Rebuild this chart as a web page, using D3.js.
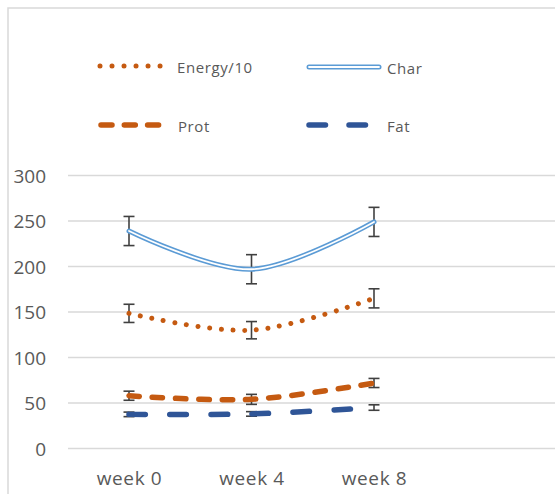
<!DOCTYPE html>
<html>
<head>
<meta charset="utf-8">
<script src="https://cdn.jsdelivr.net/npm/d3@7/dist/d3.min.js"></script>
<style>
  html, body { margin: 0; padding: 0; background: #fff; }
  svg { display: block; }
  text { font-family: "Open Sans", "Liberation Sans", sans-serif; fill: #595959; }
</style>
</head>
<body>
<svg id="chart" width="555" height="494"></svg>
<script>
// Categories and tick labels
const weeks = ["week 0", "week 4", "week 8"];
const yTicks = [0, 50, 100, 150, 200, 250, 300];

// Series means
const energy = [148.5, 130, 165];   // Energy/10
const charV  = [239, 197, 249];
const prot   = [58, 54, 72];
const fat    = [37.5, 38, 45];

// Symmetric error bar half-widths
const energyErr = [10, 9.5, 10.5];
const charErr   = [16, 16, 16];
const protErr   = [5, 5.5, 5];
const fatErr    = [2.5, 2.5, 3];

const svg = d3.select("#chart");
const W = 555, H = 494;

const x = d3.scalePoint().domain(weeks).range([129, 374]);
const y = d3.scaleLinear().domain([0, 300]).range([448.5, 175.5]);

// outer chart border (only top and left are within view)
svg.append("path")
  .attr("d", `M8,${H} L8,8 L${W},8`)
  .attr("fill", "none")
  .attr("stroke", "#D9D9D9")
  .attr("stroke-width", 1.5);

// horizontal gridlines
svg.append("g").selectAll("line").data(yTicks).join("line")
  .attr("x1", 68).attr("x2", W)
  .attr("y1", d => y(d)).attr("y2", d => y(d))
  .attr("stroke", "#D9D9D9").attr("stroke-width", 1.3);

// y axis tick labels
const yAxis = d3.axisLeft(y).tickValues(yTicks).tickSize(0).tickPadding(0);
const gy = svg.append("g").attr("transform", "translate(46,0)").call(yAxis);
gy.select(".domain").remove();
gy.selectAll("text")
  .attr("font-family", null).attr("font-size", null)
  .style("font-size", "19px").style("fill", "#595959")
  .attr("dy", "0.35em");

// x axis labels
const xAxis = d3.axisBottom(x).tickSize(0).tickPadding(0);
const gx = svg.append("g").attr("transform", "translate(0,470)").call(xAxis);
gx.select(".domain").remove();
gx.selectAll("text")
  .attr("font-family", null).attr("font-size", null)
  .attr("dy", "0.8em")
  .style("font-size", "19px").style("letter-spacing", "0.6px").style("fill", "#595959");

const curve = d3.curveCardinal.tension(0);
const line = d3.line().x((d, i) => x(weeks[i])).y(d => y(d)).curve(curve);

// error bars
function errorBars(vals, errs) {
  const g = svg.append("g").attr("stroke", "#404040").attr("stroke-width", 1.6).attr("fill", "none");
  vals.forEach((v, i) => {
    const cx = x(weeks[i]);
    const top = y(v + errs[i]), bot = y(v - errs[i]);
    g.append("line").attr("x1", cx).attr("x2", cx).attr("y1", top).attr("y2", bot);
    g.append("line").attr("x1", cx - 5.5).attr("x2", cx + 5.5).attr("y1", top).attr("y2", top);
    g.append("line").attr("x1", cx - 5.5).attr("x2", cx + 5.5).attr("y1", bot).attr("y2", bot);
  });
}

const orange = "#C55A11", lightBlue = "#5B9BD5", darkBlue = "#2F5597";

const styles = {
  energy: { stroke: orange, width: 5, dash: "0.01 11.7", cap: "round" },
  prot:   { stroke: orange, width: 5.5, dash: "10.5 12.8", cap: "round" },
  fat:    { stroke: darkBlue, width: 5.5, dash: "16.5 24.5", cap: "round" }
};

function drawStyled(g, d, s) {
  g.append("path").attr("d", d)
    .attr("fill", "none").attr("stroke", s.stroke)
    .attr("stroke-width", s.width).attr("stroke-dasharray", s.dash)
    .attr("stroke-linecap", s.cap);
}
function drawDouble(g, d) {
  g.append("path").attr("d", d).attr("fill", "none")
    .attr("stroke", lightBlue).attr("stroke-width", 5).attr("stroke-linecap", "round");
  g.append("path").attr("d", d).attr("fill", "none")
    .attr("stroke", "#fff").attr("stroke-width", 1.8).attr("stroke-linecap", "round");
}

errorBars(energy, energyErr);
errorBars(charV, charErr);
errorBars(prot, protErr);
errorBars(fat, fatErr);

const gl = svg.append("g");
drawStyled(gl, line(energy), styles.energy);
drawDouble(gl, line(charV));
drawStyled(gl, line(prot), styles.prot);
drawStyled(gl, line(fat), styles.fat);

// legend
const legend = [
  { name: "Energy/10", kind: "energy", lx: 100, ly: 66 },
  { name: "Char",      kind: "char",   lx: 309, ly: 67 },
  { name: "Prot",      kind: "prot",   lx: 101, ly: 125 },
  { name: "Fat",       kind: "fat",    lx: 309, ly: 125 }
];
const lg = svg.append("g");
legend.forEach(it => {
  const seg = `M${it.lx},${it.ly} L${it.lx + (it.kind === "char" ? 70 : 64)},${it.ly}`;
  if (it.kind === "char") {
    lg.append("path").attr("d", seg).attr("fill", "none")
      .attr("stroke", lightBlue).attr("stroke-width", 5).attr("stroke-linecap", "round");
    lg.append("path").attr("d", seg).attr("fill", "none")
      .attr("stroke", "#fff").attr("stroke-width", 1.8).attr("stroke-linecap", "round");
  } else {
    const s = it.kind === "energy" ? { stroke: orange, width: 5, dash: "0.01 12", cap: "round" }
            : it.kind === "prot" ? { stroke: orange, width: 5.5, dash: "11 12.3", cap: "round" }
            : { stroke: darkBlue, width: 5.5, dash: "16.5 23.5", cap: "round" };
    drawStyled(lg, seg, s);
  }
  lg.append("text")
    .attr("x", it.lx + (it.kind === "energy" || it.kind === "prot" ? 77 : 78))
    .attr("y", it.ly + 7)
    .style("font-size", "15px").style("letter-spacing", "0.6px")
    .text(it.name);
});
</script>
</body>
</html>
